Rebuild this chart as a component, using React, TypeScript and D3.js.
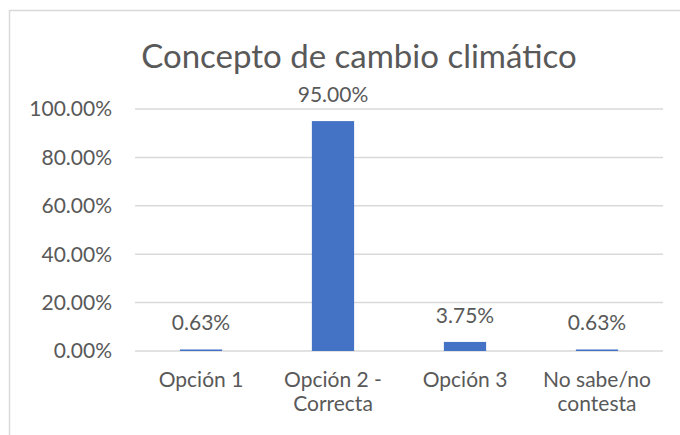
import React from "react";
import * as d3 from "d3";

const categories: string[][] = [["Opción 1"], ["Opción 2 -", "Correcta"], ["Opción 3"], ["No sabe/no", "contesta"]];
const values: number[] = [0.63, 95.0, 3.75, 0.63];
const yTicks: number[] = [0, 20, 40, 60, 80, 100];
const title = "Concepto de cambio climático";

export default function App() {
  const W = 680, H = 435;
  const left = 135, right = 663, top = 109, bottom = 351;
  const ids = categories.map((_, i) => String(i));
  const x = d3.scaleBand<string>().domain(ids).range([left, right]).paddingInner(0.68).paddingOuter(0.34);
  const y = d3.scaleLinear().domain([0, 100]).range([bottom, top]);
  const font = "Lato, 'Noto Sans', sans-serif";
  const textColor = "#595959";
  return (
    <svg width={W} height={H} style={{ position: "absolute", left: 0, top: 0 }} fontFamily={font}>
      <rect x={0} y={0} width={W} height={H} fill="#fff" />
      <rect x={9.5} y={10.5} width={W + 20} height={H + 20} fill="#fff" stroke="#d9d9d9" strokeWidth={1.5} />
      <text x={359} y={68} textAnchor="middle" fontSize={33} fill={textColor}>{title}</text>
      {yTicks.map((t) => (
        <g key={t}>
          <line x1={left} x2={right} y1={y(t)} y2={y(t)} stroke="#d9d9d9" strokeWidth={1.5} />
          <text x={112} y={y(t)} dy="0.35em" textAnchor="end" fontSize={21} fill={textColor}>
            {d3.format(".2f")(t)}%
          </text>
        </g>
      ))}
      {values.map((v, i) => (
        <g key={i}>
          <rect x={x(ids[i])} y={y(v)} width={x.bandwidth()} height={y(0) - y(v)} fill="#4472c4" />
          <text x={(x(ids[i]) as number) + x.bandwidth() / 2} y={y(v) - 19} textAnchor="middle" fontSize={21} fill={textColor}>
            {d3.format(".2f")(v)}%
          </text>
        </g>
      ))}
      {categories.map((lines, i) => (
        <text key={i} x={(x(ids[i]) as number) + x.bandwidth() / 2} y={387} textAnchor="middle" fontSize={21} fill={textColor}>
          {lines.map((l, j) => (
            <tspan key={j} x={(x(ids[i]) as number) + x.bandwidth() / 2} dy={j === 0 ? 0 : 24}>{l}</tspan>
          ))}
        </text>
      ))}
    </svg>
  );
}
